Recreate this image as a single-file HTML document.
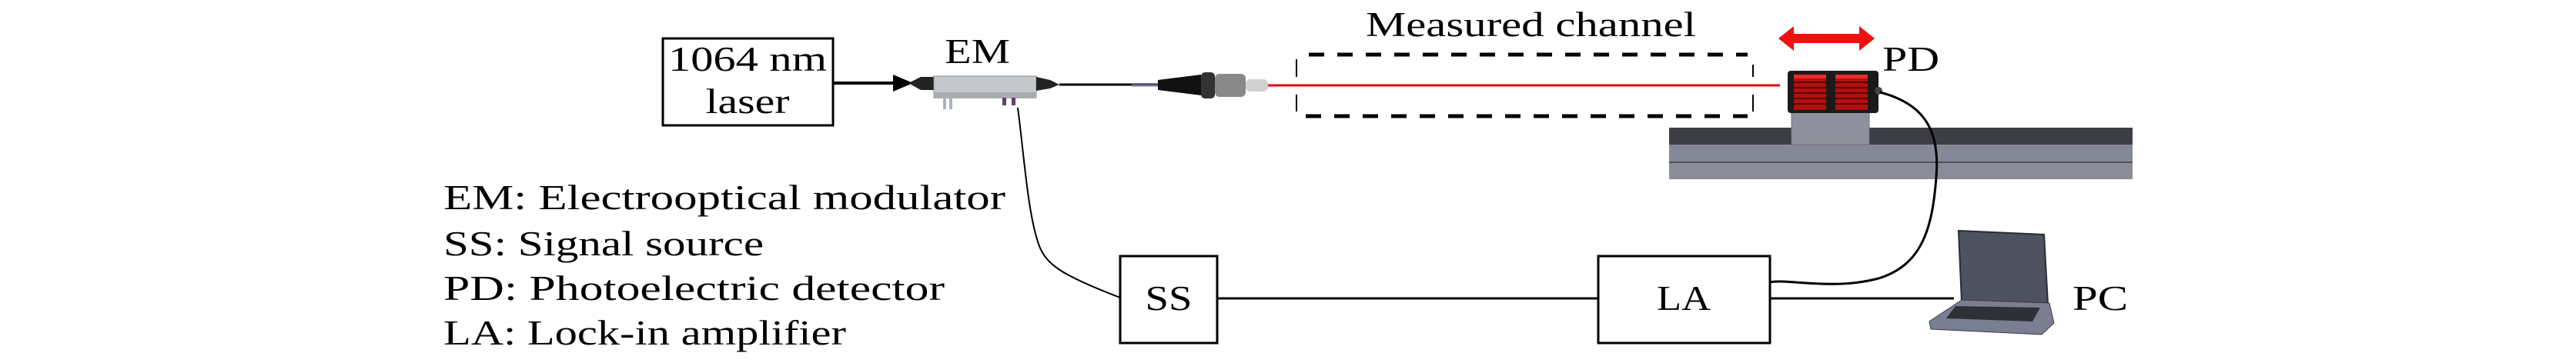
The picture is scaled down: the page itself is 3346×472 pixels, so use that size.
<!DOCTYPE html>
<html><head><meta charset="utf-8"><style>
html,body{margin:0;padding:0;background:#fff;}
svg{display:block;}
text{font-family:"Liberation Serif",serif;font-size:45px;fill:#000;}
</style></head><body>
<svg width="3346" height="472" viewBox="0 0 3346 472" xmlns="http://www.w3.org/2000/svg">
<!-- laser box -->
<rect x="861" y="50" width="221" height="113" fill="#fff" stroke="#000" stroke-width="3"/>
<text x="971" y="92" text-anchor="middle" textLength="206" lengthAdjust="spacingAndGlyphs">1064 nm</text>
<text x="971" y="147" text-anchor="middle" textLength="109" lengthAdjust="spacingAndGlyphs">laser</text>
<!-- arrow -->
<line x1="1082" y1="108" x2="1165" y2="108" stroke="#000" stroke-width="4"/>
<polygon points="1160,97 1186,108 1160,119" fill="#000"/>
<!-- EM label -->
<text x="1227" y="82" textLength="85" lengthAdjust="spacingAndGlyphs">EM</text>
<!-- EM device -->
<polygon points="1180,108 1196,100 1213,100 1213,117 1196,117" fill="#222"/>
<rect x="1213" y="99" width="133" height="28" fill="#c4c7cc" stroke="#8a8d92" stroke-width="1"/>
<rect x="1213" y="120" width="133" height="8" fill="#a9acb0"/>
<rect x="1225" y="127" width="4" height="15" fill="#aab4c0"/>
<rect x="1233" y="127" width="4" height="15" fill="#aab4c0"/>
<rect x="1302" y="127" width="5" height="10" fill="#6a3e70"/>
<rect x="1314" y="127" width="5" height="10" fill="#6a3e70"/>
<polygon points="1346,100 1364,104 1376,110 1364,115 1346,118" fill="#222"/>
<line x1="1376" y1="110" x2="1504" y2="110" stroke="#000" stroke-width="3"/>
<line x1="1470" y1="111" x2="1504" y2="111" stroke="#7a6fa0" stroke-width="3"/>
<!-- collimator -->
<polygon points="1504,104 1560,97 1560,124 1504,117" fill="#111"/>
<rect x="1560" y="94" width="18" height="34" rx="5" fill="#333"/>
<rect x="1578" y="96" width="40" height="30" rx="6" fill="#8a8a8a"/>
<rect x="1618" y="103" width="29" height="16" rx="6" fill="#d0d0d0"/>
<!-- red beam -->
<line x1="1647" y1="111" x2="2312" y2="111" stroke="#e01010" stroke-width="3"/>
<!-- dashed box -->
<line x1="1700" y1="71" x2="2270" y2="71" stroke="#000" stroke-width="5" stroke-dasharray="20,17"/>
<line x1="1696" y1="151" x2="2270" y2="151" stroke="#000" stroke-width="5" stroke-dasharray="20,17"/>
<line x1="1684" y1="77" x2="1684" y2="100" stroke="#000" stroke-width="2"/>
<line x1="1684" y1="123" x2="1684" y2="145" stroke="#000" stroke-width="2"/>
<line x1="2277" y1="84" x2="2277" y2="100" stroke="#000" stroke-width="2"/>
<line x1="2277" y1="123" x2="2277" y2="145" stroke="#000" stroke-width="2"/>
<text x="1774" y="47" textLength="429" lengthAdjust="spacingAndGlyphs">Measured channel</text>
<!-- red double arrow -->
<polygon points="2310,50 2330,34 2330,44 2415,44 2415,34 2435,50 2415,66 2415,56 2330,56 2330,66" fill="#f01010"/>
<text x="2445" y="92" textLength="74" lengthAdjust="spacingAndGlyphs">PD</text>
<!-- rail -->
<rect x="2168" y="166" width="602" height="22" fill="#3c3d45"/>
<rect x="2168" y="188" width="602" height="22" fill="#858896"/>
<rect x="2168" y="210" width="602" height="2" fill="#50525c"/>
<rect x="2168" y="212" width="602" height="21" fill="#8a8c98"/>
<!-- PD mount -->
<rect x="2327" y="145" width="101" height="43" fill="#8e919d" stroke="#70727c" stroke-width="1"/>
<!-- PD detector -->
<rect x="2322" y="92" width="118" height="55" rx="4" fill="#1a1a1a"/>
<rect x="2330" y="97" width="42" height="46" fill="#b01010"/>
<rect x="2384" y="97" width="42" height="46" fill="#b01010"/>
<g fill="#600000">
<rect x="2330" y="106" width="42" height="2"/><rect x="2330" y="113" width="42" height="2"/><rect x="2330" y="120" width="42" height="2"/><rect x="2330" y="127" width="42" height="2"/><rect x="2330" y="134" width="42" height="2"/>
<rect x="2384" y="106" width="42" height="2"/><rect x="2384" y="113" width="42" height="2"/><rect x="2384" y="120" width="42" height="2"/><rect x="2384" y="127" width="42" height="2"/><rect x="2384" y="134" width="42" height="2"/>
</g>
<rect x="2330" y="97" width="42" height="5" fill="#ee2a2a"/>
<rect x="2384" y="97" width="42" height="5" fill="#ee2a2a"/>
<circle cx="2440" cy="118" r="5" fill="#444"/>
<!-- PD cable -->
<path d="M2442,120 C2500,135 2520,170 2515,230 C2510,300 2495,345 2440,362 C2380,378 2320,362 2299,367" fill="none" stroke="#000" stroke-width="3"/>
<!-- EM cable to SS -->
<path d="M1322,140 C1330,200 1335,280 1350,320 C1360,345 1380,358 1455,387" fill="none" stroke="#000" stroke-width="2"/>
<!-- SS box -->
<rect x="1455" y="333" width="126" height="113" fill="#fff" stroke="#000" stroke-width="3"/>
<text x="1518" y="403" text-anchor="middle" textLength="61" lengthAdjust="spacingAndGlyphs">SS</text>
<line x1="1581" y1="388" x2="2076" y2="388" stroke="#000" stroke-width="3"/>
<!-- LA box -->
<rect x="2076" y="333" width="223" height="113" fill="#fff" stroke="#000" stroke-width="3"/>
<text x="2187" y="403" text-anchor="middle" textLength="70" lengthAdjust="spacingAndGlyphs">LA</text>
<line x1="2299" y1="388" x2="2538" y2="388" stroke="#000" stroke-width="3"/>
<!-- laptop -->
<polygon points="2544,300 2655,305 2660,395 2548,392" fill="#4e5160" stroke="#2a2b32" stroke-width="2"/>
<polygon points="2548,390 2662,394 2668,420 2652,435 2508,428 2506,418" fill="#7a7e90" stroke="#3a3c46" stroke-width="1"/>
<polygon points="2540,398 2650,400 2640,418 2528,414" fill="#2e3038"/>
<text x="2692" y="403" textLength="72" lengthAdjust="spacingAndGlyphs">PC</text>
<!-- legend -->
<text x="576" y="272" textLength="730" lengthAdjust="spacingAndGlyphs">EM: Electrooptical modulator</text>
<text x="576" y="332" textLength="416" lengthAdjust="spacingAndGlyphs">SS: Signal source</text>
<text x="576" y="390" textLength="651" lengthAdjust="spacingAndGlyphs">PD: Photoelectric detector</text>
<text x="576" y="448" textLength="523" lengthAdjust="spacingAndGlyphs">LA: Lock-in amplifier</text>
</svg>
</body></html>
